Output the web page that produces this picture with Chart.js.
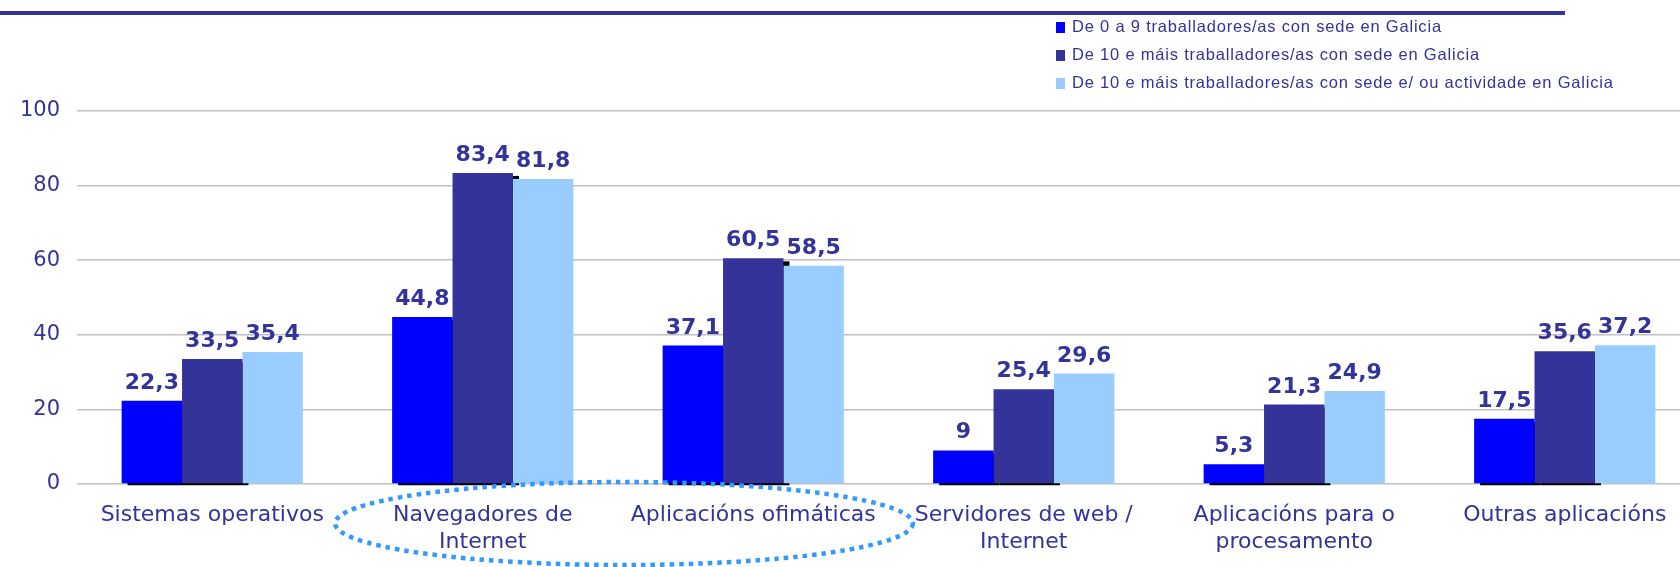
<!DOCTYPE html>
<html>
<head>
<meta charset="utf-8">
<script src="https://cdn.jsdelivr.net/npm/chart.js@4"></script>
<style>
  body { margin: 0; overflow: hidden; background: #fff; }
  #wrap { position: absolute; left: 0; top: 0; width: 1700px; height: 567px; }
  #topline { position: absolute; left: 0; top: 11px; width: 1565px; height: 4px; background: #333399; }
  #legend { position: absolute; left: 1056px; top: 12px; font-family: "Liberation Sans", Arial, sans-serif; font-size: 16.5px; color: #333399; letter-spacing: 0.8px; }
  .row { height: 28px; line-height: 28px; white-space: nowrap; }
  .sw { display: inline-block; width: 9px; height: 11px; margin-right: 7px; vertical-align: -1px; }
</style>
</head>
<body>
<div id="wrap"><canvas id="myChart" width="1700" height="567"></canvas></div>
<div id="topline"></div>
<div id="legend"></div>
<script>
// categories (multi-line labels as in the original)
const categories = [
  "Sistemas operativos",
  ["Navegadores de", "Internet"],
  "Aplicacións ofimáticas",
  ["Servidores de web /", "Internet"],
  ["Aplicacións para o", "procesamento"],
  "Outras aplicacións"
];
const seriesNames = [
  "De 0 a 9 traballadores/as con sede en Galicia",
  "De 10 e máis traballadores/as con sede en Galicia",
  "De 10 e máis traballadores/as con sede e/ ou actividade en Galicia"
];
const small = [22.3, 44.8, 37.1, 9, 5.3, 17.5];
const bigGal = [33.5, 83.4, 60.5, 25.4, 21.3, 35.6];
const bigAct = [35.4, 81.8, 58.5, 29.6, 24.9, 37.2];
const yTicks = [0, 20, 40, 60, 80, 100];
const colors = ["#0000ff", "#333399", "#99ccff"];
const textColor = "#333399";

// html legend
var leg = document.getElementById('legend');
seriesNames.forEach(function (n, i) {
  var r = document.createElement('div');
  r.className = 'row';
  r.innerHTML = '<span class="sw" style="background:' + colors[i] + '"></span>' + n;
  leg.appendChild(r);
});

// black shadow under first two series (old excel 3d look)
const shadowPlugin = {
  id: 'shadow',
  beforeDatasetsDraw(chart) {
    const ctx = chart.ctx;
    ctx.save();
    ctx.fillStyle = '#000';
    [0, 1].forEach(function (d) {
      chart.getDatasetMeta(d).data.forEach(function (b) {
        ctx.fillRect(b.x - b.width / 2 + 6, b.y + 3, b.width, b.base - b.y - 1);
      });
    });
    ctx.restore();
  }
};

const labelPlugin = {
  id: 'vals',
  afterDatasetsDraw(chart) {
    const ctx = chart.ctx;
    ctx.save();
    ctx.font = 'bold 22px "DejaVu Sans", Verdana, sans-serif';
    ctx.fillStyle = textColor;
    ctx.textAlign = 'center';
    ctx.textBaseline = 'alphabetic';
    chart.data.datasets.forEach(function (ds, d) {
      chart.getDatasetMeta(d).data.forEach(function (b, i) {
        ctx.fillText(String(ds.data[i]).replace('.', ','), b.x, b.y - 12);
      });
    });
    ctx.restore();
  }
};

// dotted ellipse round the 2nd and 3rd categories
const ellipsePlugin = {
  id: 'ellipse',
  afterDraw(chart) {
    const ctx = chart.ctx;
    const xs = chart.scales.x;
    const cw = xs.getPixelForValue(2) - xs.getPixelForValue(1);
    const cx = (xs.getPixelForValue(1) + xs.getPixelForValue(2)) / 2 + 6;
    const cy = chart.chartArea.bottom + 39.5;
    ctx.save();
    ctx.strokeStyle = '#3399ff';
    ctx.lineWidth = 4.5;
    ctx.setLineDash([4.5, 5]);
    ctx.beginPath();
    ctx.ellipse(cx, cy, cw * 1.068, 41.5, 0, 0, Math.PI * 2);
    ctx.stroke();
    ctx.restore();
  }
};

const config = {
  type: 'bar',
  data: {
    labels: categories,
    datasets: [
      { label: seriesNames[0], data: small, backgroundColor: colors[0] },
      { label: seriesNames[1], data: bigGal, backgroundColor: colors[1] },
      { label: seriesNames[2], data: bigAct, backgroundColor: colors[2] }
    ]
  },
  options: {
    responsive: false,
    animation: false,
    devicePixelRatio: 1,
    layout: { padding: { top: 111, left: 20, right: 0, bottom: 11 } },
    datasets: { bar: { categoryPercentage: 0.67, barPercentage: 1 } },
    plugins: { legend: { display: false }, tooltip: { enabled: false } },
    scales: {
      x: {
        grid: { display: false, drawTicks: false },
        border: { display: false },
        afterFit: function (s) { s.paddingLeft = 0; s.paddingRight = 0; s.height = 72; },
        ticks: {
          color: textColor,
          padding: 18,
          maxRotation: 0,
          autoSkip: false,
          font: { family: '"DejaVu Sans", Verdana, sans-serif', size: 22, lineHeight: 1.23 }
        }
      },
      y: {
        min: 0,
        max: 100,
        afterBuildTicks: function (s) { s.ticks = yTicks.map(function (v) { return { value: v }; }); },
        afterFit: function (s) { s.width = 57; },
        grid: { color: '#c0c0c0', lineWidth: 1.5, drawTicks: false },
        border: { display: false },
        ticks: {
          color: textColor,
          padding: 17,
          font: { family: '"DejaVu Sans", Verdana, sans-serif', size: 21 }
        }
      }
    }
  },
  plugins: [shadowPlugin, labelPlugin, ellipsePlugin]
};

new Chart(document.getElementById('myChart'), config);
</script>
</body>
</html>
